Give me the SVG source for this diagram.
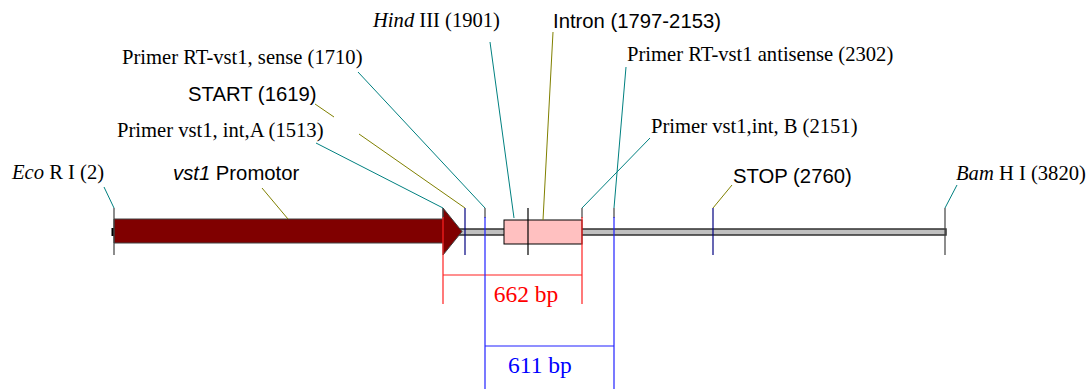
<svg xmlns="http://www.w3.org/2000/svg" width="1086" height="389" viewBox="0 0 1086 389">
<style>
.serif{font-family:"Liberation Serif","Times New Roman",serif;font-size:20.6px;fill:#000}
.sans{font-family:"Liberation Sans",Arial,sans-serif;font-size:20.3px;fill:#000}
.teal{stroke:#008080;stroke-width:1;fill:none}
.olive{stroke:#808000;stroke-width:1;fill:none}
.tick{stroke:#404040;stroke-width:1.2}
.navy{stroke:#000080;stroke-width:1.2}
.red{stroke:#ff2020;stroke-width:1.2}
.blue{stroke:#2020ff;stroke-width:1.2}
</style>
<rect width="1086" height="389" fill="#fff"/>
<g id="backbone">
<rect x="113" y="229" width="833" height="6" fill="#c0c0c0" stroke="#303030" stroke-width="1.5"/>
<rect x="111.5" y="228" width="3" height="8" fill="#000"/>
</g>
<g id="promotor">
<polygon points="114,219 443,219 443,208 462,231.5 443,255 443,243 114,243" fill="#800000" stroke="#404040" stroke-width="1"/>
<text class="sans" x="173" y="180"><tspan font-style="italic">vst1</tspan> Promotor</text>
</g>
<g id="intron">
<rect x="504" y="220" width="78" height="24" fill="#ffc0c0" stroke="#000" stroke-width="1"/>
<text class="sans" x="553" y="28">Intron (1797-2153)</text>
</g>
<g id="ecori">
<line class="tick" x1="114" y1="208" x2="114" y2="255"/>
<text class="serif" x="12" y="179"><tspan font-style="italic">Eco</tspan> R I (2)</text>
</g>
<g id="primerA">
<line class="tick" x1="443" y1="208" x2="443" y2="218"/>
<text class="serif" x="117" y="137">Primer vst1, int,A (1513)</text>
</g>
<g id="start">
<line class="navy" x1="465" y1="208" x2="465" y2="255"/>
<text class="sans" x="188" y="101">START (1619)</text>
</g>
<g id="primerRTsense">
<line class="tick" x1="485" y1="208" x2="485" y2="218"/>
<text class="serif" x="122" y="64">Primer RT-vst1, sense (1710)</text>
</g>
<g id="hindiii">
<line stroke="#000" stroke-width="1.2" x1="528" y1="208" x2="528" y2="255"/>
<text class="serif" x="373" y="27"><tspan font-style="italic">Hind</tspan> III (1901)</text>
</g>
<g id="primerB">
<line class="tick" x1="582" y1="208" x2="582" y2="218"/>
<text class="serif" x="651" y="133">Primer vst1,int, B (2151)</text>
</g>
<g id="primerRTanti">
<line class="tick" x1="614" y1="208" x2="614" y2="218"/>
<text class="serif" x="627" y="61">Primer RT-vst1 antisense (2302)</text>
</g>
<g id="stop">
<line class="navy" x1="713" y1="208" x2="713" y2="255"/>
<text class="sans" x="733" y="183">STOP (2760)</text>
</g>
<g id="bamhi">
<line class="tick" x1="945" y1="208" x2="945" y2="255"/>
<text class="serif" x="956" y="180"><tspan font-style="italic">Bam</tspan> H I (3820)</text>
</g>
<g id="bracket662">
<line class="red" x1="443" y1="217" x2="443" y2="304"/>
<line class="red" x1="582" y1="217" x2="582" y2="304"/>
<line class="red" x1="443" y1="275" x2="582" y2="275"/>
<text x="526" y="302" text-anchor="middle" font-family="Liberation Serif,serif" font-size="23.5" fill="#ff0000">662 bp</text>
</g>
<g id="bracket611">
<line class="blue" x1="485" y1="217" x2="485" y2="389"/>
<line class="blue" x1="614" y1="217" x2="614" y2="389"/>
<line class="blue" x1="485" y1="346" x2="614" y2="346"/>
<text x="540" y="373" text-anchor="middle" font-family="Liberation Serif,serif" font-size="23.5" fill="#0000ff">611 bp</text>
</g>
<g id="connectors">
<line class="teal" x1="114" y1="208" x2="104" y2="187"/>
<line class="olive" x1="288" y1="219" x2="262" y2="188"/>
<line class="teal" x1="443" y1="208" x2="316" y2="143"/>
<line class="olive" x1="465" y1="208" x2="359" y2="134"/>
<line class="olive" x1="334" y1="117" x2="315" y2="104"/>
<line class="teal" x1="485" y1="208" x2="358" y2="72"/>
<line class="teal" x1="514" y1="218" x2="490" y2="42"/>
<line class="olive" x1="543" y1="220" x2="553" y2="32"/>
<line class="teal" x1="582" y1="208" x2="650" y2="138"/>
<line class="teal" x1="614" y1="208" x2="626" y2="67"/>
<line class="olive" x1="713" y1="208" x2="732" y2="185"/>
<line class="teal" x1="945" y1="208" x2="957" y2="185"/>
</g>
</svg>
